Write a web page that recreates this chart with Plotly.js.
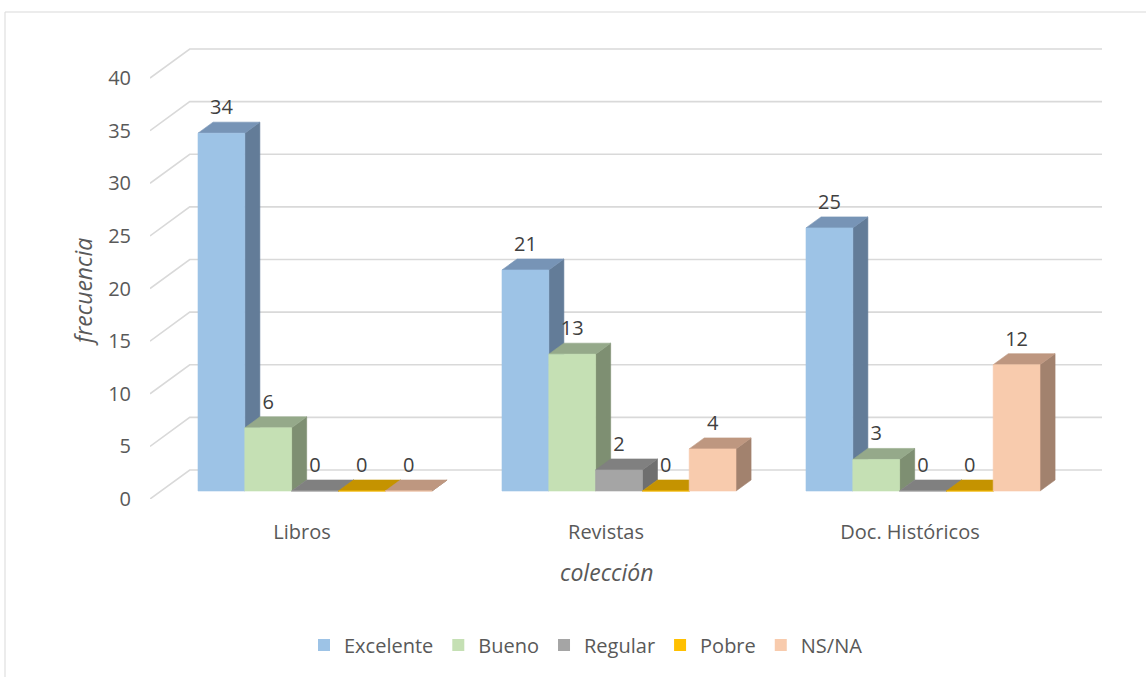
<!DOCTYPE html>
<html>
<head>
<meta charset="utf-8">
<script src="https://cdn.plot.ly/plotly-3.0.1.min.js"></script>
<style>
  html, body { margin: 0; padding: 0; background: #ffffff; }
  #chart { width: 1146px; height: 677px; }
</style>
</head>
<body>
<div id="chart"></div>
<script>
// ---- data ----
const categories = ['Libros', 'Revistas', 'Doc. Históricos'];
const seriesNames = ['Excelente', 'Bueno', 'Regular', 'Pobre', 'NS/NA'];
const excelente = [34, 21, 25];
const bueno = [6, 13, 3];
const regular = [0, 2, 0];
const pobre = [0, 0, 0];
const nsna = [0, 4, 12];
const yTickVals = [0, 5, 10, 15, 20, 25, 30, 35, 40];
const xTitle = 'colección';
const yTitle = 'frecuencia';

const seriesValues = [excelente, bueno, regular, pobre, nsna];

// ---- styles ----
const frontColors = ['#9DC3E6', '#C5E0B4', '#A5A5A5', '#FFC000', '#F8CBAD'];
const sideColors  = ['#637C98', '#7E8F72', '#6F6F6F', '#A37B00', '#A2826E'];
const topColors   = ['#7794B6', '#95A98A', '#808080', '#C59300', '#BE9780'];
const FONT = 'Open Sans, sans-serif';

// ---- geometry (pixels) ----
const W = 1146, H = 677;
const mL = 150, mT = 46, mR = 44, mB = 178;
const plotW = W - mL - mR, plotH = H - mT - mB;
const catPx = 304;        // px per category
const valPx = 10.525;     // px per value unit
const slope = 1.37;       // depth dx per dy
const wallDepth = 29;     // floor front -> back wall (vertical px)
const barFrontDepth = 8;
const barDepth = 11;
const barPx = 46.8;
const barShift = 13;

const xMin = -0.5, xMax = xMin + plotW / catPx;
const yMin = 0, yMax = plotH / valPx;
const ux = px => px / catPx;
const uy = px => px / valPx;
const px2paperX = px => (px - mL) / plotW;
const px2paperY = py => (H - mB - py) / plotH;

const traces = [];

// back wall gridlines + diagonals
const gx = [], gy = [];
yTickVals.forEach(v => {
  const bx = xMin + ux(wallDepth * slope), by = v + uy(wallDepth);
  gx.push(xMin, bx, xMax, null);
  gy.push(v, by, by, null);
});
traces.push({
  type: 'scatter', mode: 'lines', x: gx, y: gy,
  line: { color: '#D9D9D9', width: 1.6 },
  showlegend: false, hoverinfo: 'skip'
});

function poly(pts, color) {
  traces.push({
    type: 'scatter', mode: 'lines',
    x: pts.map(p => p[0]).concat([pts[0][0]]),
    y: pts.map(p => p[1]).concat([pts[0][1]]),
    fill: 'toself', fillcolor: color,
    line: { color: color, width: 0.6 },
    showlegend: false, hoverinfo: 'skip'
  });
}

const labelX = seriesNames.map(() => []);
const labelY = seriesNames.map(() => []);
const labelT = seriesNames.map(() => []);

const ddx = ux(barDepth * slope), ddy = uy(barDepth);
categories.forEach((c, i) => {
  seriesValues.forEach((vals, s) => {
    const v = vals[i];
    const xl = i + ux(barShift - 2.5 * barPx + s * barPx);
    const xr = xl + ux(barPx);
    const yb = uy(barFrontDepth);
    const yt = yb + v;
    poly([[xr, yb], [xr + ddx, yb + ddy], [xr + ddx, yt + ddy], [xr, yt]], sideColors[s]);
    poly([[xl, yt], [xr, yt], [xr + ddx, yt + ddy], [xl + ddx, yt + ddy]], topColors[s]);
    poly([[xl, yb], [xr, yb], [xr, yt], [xl, yt]], frontColors[s]);
    labelX[s].push((xl + xr) / 2);
    labelY[s].push(yt + uy(24));
    labelT[s].push(String(v));
  });
});

// data labels
seriesNames.forEach((n, s) => {
  traces.push({
    type: 'scatter', mode: 'text', x: labelX[s], y: labelY[s], text: labelT[s],
    textfont: { family: FONT, size: 20, color: '#404040' },
    showlegend: false, hoverinfo: 'skip', cliponaxis: false
  });
});

// legend entries (no drawn marks)
seriesNames.forEach((n, s) => {
  traces.push({
    type: 'bar', name: n, x: [null], y: [null],
    marker: { color: frontColors[s], line: { width: 0 } }, showlegend: true
  });
});

const layout = {
  width: W, height: H,
  margin: { l: mL, r: mR, t: mT, b: mB },
  paper_bgcolor: '#ffffff', plot_bgcolor: 'rgba(0,0,0,0)',
  font: { family: FONT, size: 20, color: '#595959' },
  showlegend: true,
  hovermode: false,
  xaxis: {
    type: 'linear', range: [xMin, xMax], fixedrange: true,
    showgrid: false, zeroline: false, showline: false, ticks: '',
    tickvals: [0, 1, 2], ticktext: categories,
    ticklabelstandoff: 19,
    tickfont: { family: FONT, size: 20, color: '#595959' }
  },
  yaxis: {
    type: 'linear', range: [yMin, yMax], fixedrange: true,
    showgrid: false, zeroline: false, showline: false, ticks: '',
    tickvals: yTickVals, ticktext: yTickVals.map(String),
    ticklabelstandoff: 18,
    tickfont: { family: FONT, size: 20, color: '#595959' }
  },
  legend: {
    orientation: 'h', x: px2paperX(586), xanchor: 'center',
    y: px2paperY(645), yanchor: 'middle',
    font: { family: FONT, size: 20, color: '#595959' },
    itemwidth: 30,
    bgcolor: 'rgba(0,0,0,0)'
  },
  annotations: [
    { text: yTitle, xref: 'paper', yref: 'paper',
      x: px2paperX(83), y: px2paperY(292), xanchor: 'center', yanchor: 'middle',
      textangle: -90, showarrow: false,
      font: { family: FONT, size: 23, color: '#595959', style: 'italic' } },
    { text: xTitle, xref: 'paper', yref: 'paper',
      x: px2paperX(606), y: px2paperY(572), xanchor: 'center', yanchor: 'middle',
      showarrow: false,
      font: { family: FONT, size: 23, color: '#595959', style: 'italic' } }
  ],
  shapes: [
    { type: 'rect', xref: 'paper', yref: 'paper', layer: 'below',
      x0: px2paperX(5), x1: px2paperX(1160),
      y0: px2paperY(700), y1: px2paperY(12),
      line: { color: '#D9D9D9', width: 1 }, fillcolor: 'rgba(0,0,0,0)' }
  ]
};

Plotly.newPlot('chart', traces, layout, { displayModeBar: false, staticPlot: true });
</script>
</body>
</html>
